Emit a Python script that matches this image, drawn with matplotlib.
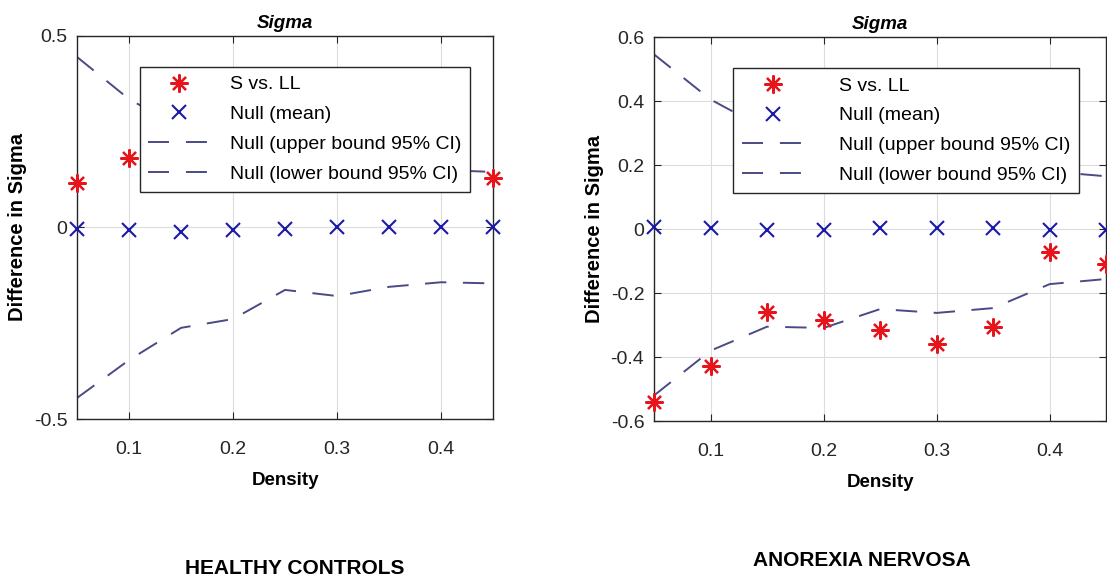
import numpy as np
import matplotlib
matplotlib.use('Agg')
import matplotlib.pyplot as plt

plt.rcParams['font.family'] = ['Liberation Sans', 'DejaVu Sans']

# data
density = [0.05, 0.10, 0.15, 0.20, 0.25, 0.30, 0.35, 0.40, 0.45]

# healthy controls
hc_s_vs_ll = [0.116, 0.181, 0.20, 0.16, 0.22, 0.18, 0.20, 0.15, 0.129]
hc_null_mean = [-0.005, -0.006, -0.012, -0.007, -0.003, 0.002, 0.002, 0.002, 0.0]
hc_null_upper = [0.445, 0.335, 0.26, 0.24, 0.17, 0.18, 0.16, 0.15, 0.145]
hc_null_lower = [-0.445, -0.346, -0.262, -0.239, -0.163, -0.179, -0.155, -0.143, -0.146]

# anorexia nervosa
an_s_vs_ll = [-0.539, -0.427, -0.26, -0.283, -0.315, -0.36, -0.305, -0.072, -0.108]
an_null_mean = [0.008, 0.003, -0.002, -0.002, 0.003, 0.003, 0.003, -0.002, -0.002]
an_null_upper = [0.546, 0.405, 0.31, 0.30, 0.26, 0.26, 0.24, 0.18, 0.165]
an_null_lower = [-0.52, -0.38, -0.305, -0.309, -0.25, -0.262, -0.247, -0.172, -0.156]

labels = ['S vs. LL', 'Null (mean)', 'Null (upper bound 95% CI)', 'Null (lower bound 95% CI)']
group_names = ['HEALTHY CONTROLS', 'ANOREXIA NERVOSA']

line_col = '#4a4a86'
dark = '#262626'
asterisk = (8, 2, 0)
dash = (0, (11, 8.5))


def panel(ax, s, mean, upper, lower, ylim, yticks, leg_anchor, hlen=3.2, hpad=1.0):
    ax.plot(density, upper, ls=dash, color=line_col, lw=1.4, zorder=2)
    ax.plot(density, lower, ls=dash, color=line_col, lw=1.4, zorder=2)
    ax.plot(density, s, ls='none', marker=asterisk, ms=13, mew=1.6,
            color='#e8141c', zorder=3, clip_on=False)
    ax.plot(density, mean, ls='none', marker='x', ms=10, mew=1.5,
            color='#1a1aa8', zorder=3, clip_on=False)
    ax.set_xlim(0.05, 0.45)
    ax.set_ylim(*ylim)
    ax.set_xticks([0.1, 0.2, 0.3, 0.4])
    ax.set_xticklabels(['0.1', '0.2', '0.3', '0.4'])
    ax.set_yticks(yticks)
    ax.set_yticklabels([('%g' % t) for t in yticks])
    ax.grid(True, color='#dcdcdc', lw=0.8)
    ax.set_axisbelow(True)
    ax.tick_params(direction='in', top=True, right=True, length=5,
                   labelsize=14, colors=dark)
    ax.tick_params(axis='x', pad=16)
    ax.tick_params(axis='y', pad=7)
    for sp in ax.spines.values():
        sp.set_color(dark)
        sp.set_linewidth(1.0)
    ax.set_title('Sigma', fontsize=13.5, fontweight='bold', style='italic', pad=6)
    ax.set_xlabel('Density', fontsize=13.5, fontweight='bold', labelpad=10)
    ax.set_ylabel('Difference in Sigma', fontsize=14.5, fontweight='bold', labelpad=5)

    # legend proxies
    leg_dash = (0, (10.8, 8.7))
    h = [plt.Line2D([], [], ls='none', marker=asterisk, ms=13, mew=1.6, color='#e8141c'),
         plt.Line2D([], [], ls='none', marker='x', ms=10, mew=1.5, color='#1a1aa8'),
         plt.Line2D([], [], ls=leg_dash, color=line_col, lw=1.4),
         plt.Line2D([], [], ls=leg_dash, color=line_col, lw=1.4)]
    leg = ax.legend(h, labels, loc='upper right', bbox_to_anchor=leg_anchor,
                    fontsize=14, frameon=True, fancybox=False, framealpha=1,
                    edgecolor=dark, handlelength=hlen, handletextpad=hpad,
                    labelspacing=0.63, borderpad=0.45, borderaxespad=0)
    leg.get_frame().set_linewidth(1.0)
    leg.set_zorder(5)


fig = plt.figure(figsize=(11.07, 5.84), dpi=100)
ax1 = fig.add_axes([0.0696, 0.2825, 0.3758, 0.656])
ax2 = fig.add_axes([0.5908, 0.279, 0.4085, 0.6575])

panel(ax1, hc_s_vs_ll, hc_null_mean, hc_null_upper, hc_null_lower,
      (-0.5, 0.5), [-0.5, 0, 0.5], (0.945, 0.919))
panel(ax2, an_s_vs_ll, an_null_mean, an_null_upper, an_null_lower,
      (-0.6, 0.6), [-0.6, -0.4, -0.2, 0, 0.2, 0.4, 0.6], (0.94, 0.919),
      hlen=3.2, hpad=1.8)

fig.text(295 / 1107, 1 - 568 / 584, group_names[0], ha='center', va='center',
         fontsize=15, fontweight='bold')
fig.text(862 / 1107, 1 - 560 / 584, group_names[1], ha='center', va='center',
         fontsize=15, fontweight='bold')

fig.savefig('out.png', dpi=100)
